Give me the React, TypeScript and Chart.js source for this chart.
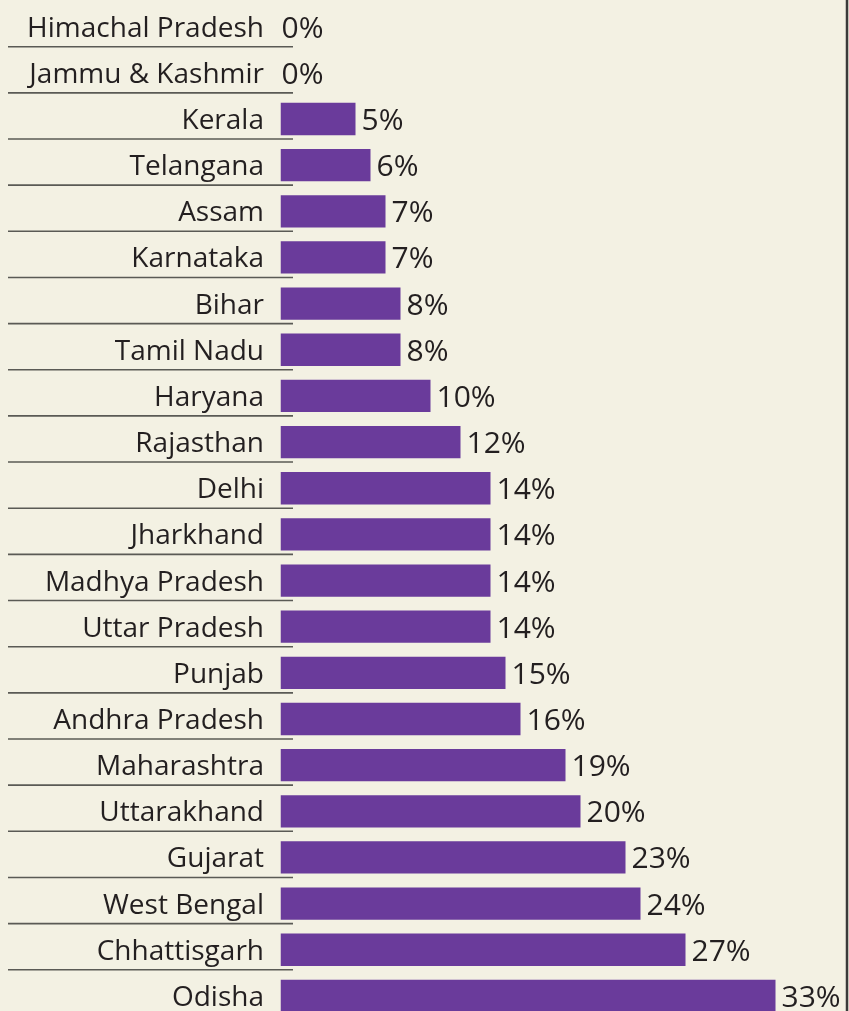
import React, { useEffect, useRef } from "react";
import { Chart, registerables } from "chart.js";

Chart.register(...registerables);

const states: string[] = [
  "Himachal Pradesh",
  "Jammu & Kashmir",
  "Kerala",
  "Telangana",
  "Assam",
  "Karnataka",
  "Bihar",
  "Tamil Nadu",
  "Haryana",
  "Rajasthan",
  "Delhi",
  "Jharkhand",
  "Madhya Pradesh",
  "Uttar Pradesh",
  "Punjab",
  "Andhra Pradesh",
  "Maharashtra",
  "Uttarakhand",
  "Gujarat",
  "West Bengal",
  "Chhattisgarh",
  "Odisha",
];

const shares: number[] = [0, 0, 5, 6, 7, 7, 8, 8, 10, 12, 14, 14, 14, 14, 15, 16, 19, 20, 23, 24, 27, 33];

const BG = "#f3f1e3";
const BAR = "#6a3b9b";
const TEXT = "#231f20";
const FONT = "'Open Sans', 'Noto Sans', sans-serif";

const decorPlugin = {
  id: "decor",
  afterDatasetsDraw(chart: any) {
    const ctx = chart.ctx as CanvasRenderingContext2D;
    const meta = chart.getDatasetMeta(0);
    const yScale = chart.scales.y;
    ctx.save();
    // separator lines
    ctx.strokeStyle = "#5a5a55";
    ctx.lineWidth = 1.6;
    states.forEach((_, i) => {
      const cy = yScale.getPixelForValue(i);
      ctx.beginPath();
      ctx.moveTo(8, cy + 20);
      ctx.lineTo(293, cy + 20);
      ctx.stroke();
    });
    // category labels
    ctx.fillStyle = TEXT;
    ctx.font = `28px ${FONT}`;
    ctx.textAlign = "right";
    ctx.textBaseline = "alphabetic";
    states.forEach((s, i) => {
      const cy = yScale.getPixelForValue(i);
      ctx.fillText(s, 264, cy + 10);
    });
    // value labels
    ctx.font = `30px ${FONT}`;
    ctx.textAlign = "left";
    shares.forEach((v, i) => {
      const el = meta.data[i];
      const x = v === 0 ? el.x + 1 : el.x + 6;
      ctx.fillText(`${v}%`, x, el.y + 11);
    });
    // right border
    ctx.strokeStyle = "#3a3a3a";
    ctx.lineWidth = 2.5;
    ctx.beginPath();
    ctx.moveTo(847, 0);
    ctx.lineTo(847, chart.height);
    ctx.stroke();
    ctx.restore();
  },
};

export default function App() {
  const ref = useRef<HTMLCanvasElement | null>(null);

  useEffect(() => {
    document.body.style.margin = "0";
    document.body.style.background = BG;
    if (!ref.current) return;
    const chart = new Chart(ref.current, {
      type: "bar",
      data: {
        labels: states,
        datasets: [
          {
            data: shares,
            backgroundColor: BAR,
            borderWidth: 0,
            barPercentage: 0.7,
            categoryPercentage: 1,
          },
        ],
      },
      options: {
        indexAxis: "y",
        animation: false,
        responsive: true,
        maintainAspectRatio: false,
        layout: { padding: { left: 280.5, top: 3.6, right: 0, bottom: 0 } },
        scales: {
          x: { display: false, min: 0, max: 37.9 },
          y: { display: false, offset: true, grid: { display: false } },
        },
        plugins: {
          legend: { display: false },
          tooltip: { enabled: false },
        },
      },
      plugins: [decorPlugin],
    });
    return () => chart.destroy();
  }, []);

  return (
    <div
      style={{
        position: "fixed",
        top: 0,
        left: 0,
        width: "849px",
        height: "1019px",
        background: BG,
        overflow: "hidden",
      }}
    >
      <canvas ref={ref} />
    </div>
  );
}
